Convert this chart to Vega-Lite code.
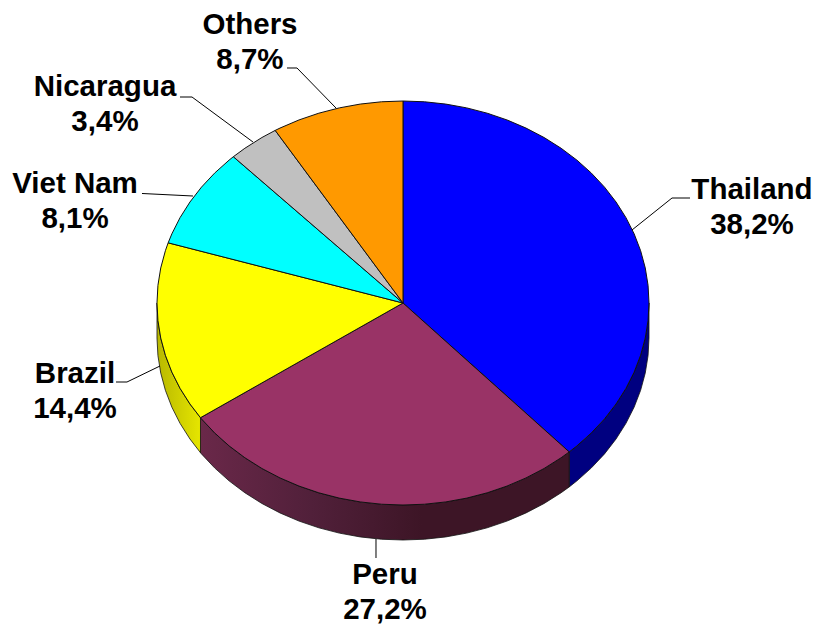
{"$schema":"https://vega.github.io/schema/vega-lite/v6.json","width":815,"height":626,"padding":0,"autosize":"none","background":"white","config":{"view":{"stroke":null}},
"encoding":{"x":{"field":"px","type":"quantitative","axis":null,"scale":{"domain":[-1.6382,1.6748],"nice":false,"zero":false}},"y":{"field":"py","type":"quantitative","axis":null,"scale":{"domain":[-1.599,1.5],"nice":false,"zero":false}}},
"layer":[
{"data":{"values":[{"px":1,"py":0,"py2":-0.1733},{"px":0.9962,"py":-0.0872,"py2":-0.2605},{"px":0.9848,"py":-0.1736,"py2":-0.3469},{"px":0.9659,"py":-0.2588,"py2":-0.4321},{"px":0.9397,"py":-0.342,"py2":-0.5153},{"px":0.9063,"py":-0.4226,"py2":-0.5959},{"px":0.866,"py":-0.5,"py2":-0.6733},{"px":0.8192,"py":-0.5736,"py2":-0.7469},{"px":0.766,"py":-0.6428,"py2":-0.8161},{"px":0.7071,"py":-0.7071,"py2":-0.8804},{"px":0.6756,"py":-0.7373,"py2":-0.9106}]},
"mark":{"type":"area","fill":"#000080","stroke":"#111111","strokeWidth":0.8},"encoding":{"y2":{"field":"py2"}}},
{"data":{"values":[{"px":0.6756,"py":-0.7373,"py2":-0.9106},{"px":0.6428,"py":-0.766,"py2":-0.9393},{"px":0.5736,"py":-0.8192,"py2":-0.9925},{"px":0.5,"py":-0.866,"py2":-1.0393},{"px":0.4226,"py":-0.9063,"py2":-1.0796},{"px":0.342,"py":-0.9397,"py2":-1.113},{"px":0.2588,"py":-0.9659,"py2":-1.1392},{"px":0.1736,"py":-0.9848,"py2":-1.1581},{"px":0.0872,"py":-0.9962,"py2":-1.1695},{"px":0,"py":-1,"py2":-1.1733},{"px":-0.0872,"py":-0.9962,"py2":-1.1695},{"px":-0.1736,"py":-0.9848,"py2":-1.1581},{"px":-0.2588,"py":-0.9659,"py2":-1.1392},{"px":-0.342,"py":-0.9397,"py2":-1.113},{"px":-0.4226,"py":-0.9063,"py2":-1.0796},{"px":-0.5,"py":-0.866,"py2":-1.0393},{"px":-0.5736,"py":-0.8192,"py2":-0.9925},{"px":-0.6428,"py":-0.766,"py2":-0.9393},{"px":-0.7071,"py":-0.7071,"py2":-0.8804},{"px":-0.766,"py":-0.6428,"py2":-0.8161},{"px":-0.8192,"py":-0.5736,"py2":-0.7469},{"px":-0.8232,"py":-0.5678,"py2":-0.7411}]},
"mark":{"type":"area","stroke":"#111111","strokeWidth":0.8,"fill":{"gradient":"linear","x1":0,"x2":1,"y1":0,"y2":0,"stops":[{"offset":0,"color":"#6a2849"},{"offset":0.3,"color":"#51203a"},{"offset":0.6,"color":"#3d1526"},{"offset":1,"color":"#3d1526"}]}},"encoding":{"y2":{"field":"py2"}}},
{"data":{"values":[{"px":-0.8232,"py":-0.5678,"py2":-0.7411},{"px":-0.866,"py":-0.5,"py2":-0.6733},{"px":-0.9063,"py":-0.4226,"py2":-0.5959},{"px":-0.9397,"py":-0.342,"py2":-0.5153},{"px":-0.9659,"py":-0.2588,"py2":-0.4321},{"px":-0.9848,"py":-0.1736,"py2":-0.3469},{"px":-0.9962,"py":-0.0872,"py2":-0.2605},{"px":-1,"py":0,"py2":-0.1733}]},
"mark":{"type":"area","stroke":"#111111","strokeWidth":0.8,"fill":{"gradient":"linear","x1":0,"x2":1,"y1":0,"y2":0,"stops":[{"offset":0,"color":"#b8b800"},{"offset":1,"color":"#e6e600"}]}},"encoding":{"y2":{"field":"py2"}}},
{"data":{"values":[
{"slice":"Thailand","share":38.2,"o":0,"px":0,"py":0},{"slice":"Thailand","o":1,"px":0,"py":1},{"slice":"Thailand","o":2,"px":0.0872,"py":0.9962},{"slice":"Thailand","o":3,"px":0.1736,"py":0.9848},{"slice":"Thailand","o":4,"px":0.2588,"py":0.9659},{"slice":"Thailand","o":5,"px":0.342,"py":0.9397},{"slice":"Thailand","o":6,"px":0.4226,"py":0.9063},{"slice":"Thailand","o":7,"px":0.5,"py":0.866},{"slice":"Thailand","o":8,"px":0.5736,"py":0.8192},{"slice":"Thailand","o":9,"px":0.6428,"py":0.766},{"slice":"Thailand","o":10,"px":0.7071,"py":0.7071},{"slice":"Thailand","o":11,"px":0.766,"py":0.6428},{"slice":"Thailand","o":12,"px":0.8192,"py":0.5736},{"slice":"Thailand","o":13,"px":0.866,"py":0.5},{"slice":"Thailand","o":14,"px":0.9063,"py":0.4226},{"slice":"Thailand","o":15,"px":0.9397,"py":0.342},{"slice":"Thailand","o":16,"px":0.9659,"py":0.2588},{"slice":"Thailand","o":17,"px":0.9848,"py":0.1736},{"slice":"Thailand","o":18,"px":0.9962,"py":0.0872},{"slice":"Thailand","o":19,"px":1,"py":0},{"slice":"Thailand","o":20,"px":0.9962,"py":-0.0872},{"slice":"Thailand","o":21,"px":0.9848,"py":-0.1736},{"slice":"Thailand","o":22,"px":0.9659,"py":-0.2588},{"slice":"Thailand","o":23,"px":0.9397,"py":-0.342},{"slice":"Thailand","o":24,"px":0.9063,"py":-0.4226},{"slice":"Thailand","o":25,"px":0.866,"py":-0.5},{"slice":"Thailand","o":26,"px":0.8192,"py":-0.5736},{"slice":"Thailand","o":27,"px":0.766,"py":-0.6428},{"slice":"Thailand","o":28,"px":0.7071,"py":-0.7071},{"slice":"Thailand","o":29,"px":0.6756,"py":-0.7373},{"slice":"Thailand","o":30,"px":0,"py":0},
{"slice":"Peru","share":27.2,"o":0,"px":0,"py":0},{"slice":"Peru","o":1,"px":0.6756,"py":-0.7373},{"slice":"Peru","o":2,"px":0.6428,"py":-0.766},{"slice":"Peru","o":3,"px":0.5736,"py":-0.8192},{"slice":"Peru","o":4,"px":0.5,"py":-0.866},{"slice":"Peru","o":5,"px":0.4226,"py":-0.9063},{"slice":"Peru","o":6,"px":0.342,"py":-0.9397},{"slice":"Peru","o":7,"px":0.2588,"py":-0.9659},{"slice":"Peru","o":8,"px":0.1736,"py":-0.9848},{"slice":"Peru","o":9,"px":0.0872,"py":-0.9962},{"slice":"Peru","o":10,"px":0,"py":-1},{"slice":"Peru","o":11,"px":-0.0872,"py":-0.9962},{"slice":"Peru","o":12,"px":-0.1736,"py":-0.9848},{"slice":"Peru","o":13,"px":-0.2588,"py":-0.9659},{"slice":"Peru","o":14,"px":-0.342,"py":-0.9397},{"slice":"Peru","o":15,"px":-0.4226,"py":-0.9063},{"slice":"Peru","o":16,"px":-0.5,"py":-0.866},{"slice":"Peru","o":17,"px":-0.5736,"py":-0.8192},{"slice":"Peru","o":18,"px":-0.6428,"py":-0.766},{"slice":"Peru","o":19,"px":-0.7071,"py":-0.7071},{"slice":"Peru","o":20,"px":-0.766,"py":-0.6428},{"slice":"Peru","o":21,"px":-0.8192,"py":-0.5736},{"slice":"Peru","o":22,"px":-0.8232,"py":-0.5678},{"slice":"Peru","o":23,"px":0,"py":0},
{"slice":"Brazil","share":14.4,"o":0,"px":0,"py":0},{"slice":"Brazil","o":1,"px":-0.8232,"py":-0.5678},{"slice":"Brazil","o":2,"px":-0.866,"py":-0.5},{"slice":"Brazil","o":3,"px":-0.9063,"py":-0.4226},{"slice":"Brazil","o":4,"px":-0.9397,"py":-0.342},{"slice":"Brazil","o":5,"px":-0.9659,"py":-0.2588},{"slice":"Brazil","o":6,"px":-0.9848,"py":-0.1736},{"slice":"Brazil","o":7,"px":-0.9962,"py":-0.0872},{"slice":"Brazil","o":8,"px":-1,"py":0},{"slice":"Brazil","o":9,"px":-0.9962,"py":0.0872},{"slice":"Brazil","o":10,"px":-0.9848,"py":0.1736},{"slice":"Brazil","o":11,"px":-0.9659,"py":0.2588},{"slice":"Brazil","o":12,"px":-0.9546,"py":0.2979},{"slice":"Brazil","o":13,"px":0,"py":0},
{"slice":"Viet Nam","share":8.1,"o":0,"px":0,"py":0},{"slice":"Viet Nam","o":1,"px":-0.9546,"py":0.2979},{"slice":"Viet Nam","o":2,"px":-0.9397,"py":0.342},{"slice":"Viet Nam","o":3,"px":-0.9063,"py":0.4226},{"slice":"Viet Nam","o":4,"px":-0.866,"py":0.5},{"slice":"Viet Nam","o":5,"px":-0.8192,"py":0.5736},{"slice":"Viet Nam","o":6,"px":-0.766,"py":0.6428},{"slice":"Viet Nam","o":7,"px":-0.7071,"py":0.7071},{"slice":"Viet Nam","o":8,"px":-0.6896,"py":0.7242},{"slice":"Viet Nam","o":9,"px":0,"py":0},
{"slice":"Nicaragua","share":3.4,"o":0,"px":0,"py":0},{"slice":"Nicaragua","o":1,"px":-0.6896,"py":0.7242},{"slice":"Nicaragua","o":2,"px":-0.6428,"py":0.766},{"slice":"Nicaragua","o":3,"px":-0.5736,"py":0.8192},{"slice":"Nicaragua","o":4,"px":-0.5195,"py":0.8545},{"slice":"Nicaragua","o":5,"px":0,"py":0},
{"slice":"Others","share":8.7,"o":0,"px":0,"py":0},{"slice":"Others","o":1,"px":-0.5195,"py":0.8545},{"slice":"Others","o":2,"px":-0.5,"py":0.866},{"slice":"Others","o":3,"px":-0.4226,"py":0.9063},{"slice":"Others","o":4,"px":-0.342,"py":0.9397},{"slice":"Others","o":5,"px":-0.2588,"py":0.9659},{"slice":"Others","o":6,"px":-0.1736,"py":0.9848},{"slice":"Others","o":7,"px":-0.0872,"py":0.9962},{"slice":"Others","o":8,"px":0,"py":1},{"slice":"Others","o":9,"px":0,"py":0}
]},
"mark":{"type":"line","stroke":"#111111","strokeWidth":1,"strokeJoin":"round"},
"encoding":{"order":{"field":"o","type":"quantitative"},"fill":{"field":"slice","type":"nominal","legend":null,"scale":{"domain":["Thailand","Peru","Brazil","Viet Nam","Nicaragua","Others"],"range":["#0000ff","#993366","#ffff00","#00ffff","#c0c0c0","#ff9900"]}}}},
{"data":{"values":[
{"leader":"Thailand","o":0,"px":0.9309,"py":0.3614},{"leader":"Thailand","o":1,"px":1.0935,"py":0.5198},{"leader":"Thailand","o":2,"px":1.1667,"py":0.5198},
{"leader":"Others","o":0,"px":-0.2724,"py":0.9653},{"leader":"Others","o":1,"px":-0.4309,"py":1.1634},{"leader":"Others","o":2,"px":-0.4715,"py":1.1634},
{"leader":"Nicaragua","o":0,"px":-0.6098,"py":0.797},{"leader":"Nicaragua","o":1,"px":-0.8577,"py":1.0198},{"leader":"Nicaragua","o":2,"px":-0.9065,"py":1.0198},
{"leader":"Viet Nam","o":0,"px":-0.8537,"py":0.5297},{"leader":"Viet Nam","o":1,"px":-1.061,"py":0.5421},
{"leader":"Brazil","o":0,"px":-0.9878,"py":-0.3119},{"leader":"Brazil","o":1,"px":-1.122,"py":-0.3911},{"leader":"Brazil","o":2,"px":-1.1667,"py":-0.3911},
{"leader":"Peru","o":0,"px":-0.1098,"py":-1.1683},{"leader":"Peru","o":1,"px":-0.1098,"py":-1.2624}
]},
"mark":{"type":"line","stroke":"#000000","strokeWidth":1},"encoding":{"detail":{"field":"leader"},"order":{"field":"o","type":"quantitative"}}},
{"data":{"values":[
{"t":"Thailand","px":1.4187,"py":0.5594},{"t":"38,2%","px":1.4187,"py":0.3861},
{"t":"Others","px":-0.622,"py":1.3762},{"t":"8,7%","px":-0.622,"py":1.203},
{"t":"Nicaragua","px":-1.2114,"py":1.0693},{"t":"3,4%","px":-1.2114,"py":0.896},
{"t":"Viet Nam","px":-1.3333,"py":0.5891},{"t":"8,1%","px":-1.3333,"py":0.4158},
{"t":"Brazil","px":-1.3333,"py":-0.3515},{"t":"14,4%","px":-1.3333,"py":-0.5248},
{"t":"Peru","px":-0.0732,"py":-1.3465},{"t":"27,2%","px":-0.0732,"py":-1.5198}
]},
"mark":{"type":"text","font":"Liberation Sans","fontWeight":"bold","fontSize":29.5,"color":"#000000","align":"center","baseline":"middle"},"encoding":{"text":{"field":"t"}}}
]}
